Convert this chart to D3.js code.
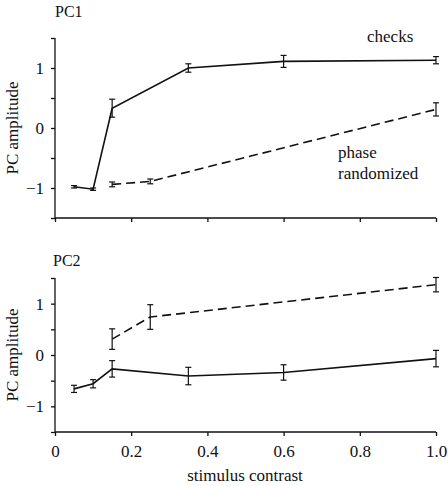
<!DOCTYPE html>
<html><head><meta charset="utf-8">
<script src="https://cdn.jsdelivr.net/npm/d3@7"></script>
<style>body{margin:0;background:#fff}svg{display:block}</style>
</head><body>
<script>
const xTicks = [0, 0.2, 0.4, 0.6, 0.8, 1.0];
const xTickLabels = ["0", "0.2", "0.4", "0.6", "0.8", "1.0"];
const yTicks = [-1.5, -1, -0.5, 0, 0.5, 1, 1.5];
const yTickLabels = {"-1": "\u22121", "0": "0", "1": "1"};

// PC1
const pc1ChecksX = [0.05, 0.10, 0.15, 0.35, 0.60, 1.00];
const pc1ChecksY = [-0.98, -1.02, 0.33, 1.00, 1.11, 1.13];
const pc1ChecksErr = [0.02, 0.02, 0.15, 0.07, 0.10, 0.06];
const pc1PhaseX = [0.15, 0.25, 1.00];
const pc1PhaseY = [-0.94, -0.89, 0.31];
const pc1PhaseErr = [0.04, 0.04, 0.11];

// PC2
const pc2ChecksX = [0.05, 0.10, 0.15, 0.35, 0.60, 1.00];
const pc2ChecksY = [-0.66, -0.56, -0.27, -0.41, -0.34, -0.07];
const pc2ChecksErr = [0.07, 0.08, 0.16, 0.17, 0.15, 0.16];
const pc2PhaseX = [0.15, 0.25, 1.00];
const pc2PhaseY = [0.31, 0.74, 1.37];
const pc2PhaseErr = [0.20, 0.24, 0.14];

const FONT = "'Liberation Serif', 'Times New Roman', Times, serif";
const W = 448, H = 486;
const svg = d3.select("body").append("svg").attr("width", W).attr("height", H)
  .attr("font-family", FONT);
const x = d3.scaleLinear().domain([0, 1]).range([55, 436]);

function txt(sel, size) {
  return sel.attr("font-family", FONT).attr("fill", "#111").style("font-size", size + "px");
}

const panels = [
  {title: "PC1", top: 38, bottom: 218, titleY: 17,
   series: [
     {xs: pc1ChecksX, ys: pc1ChecksY, es: pc1ChecksErr, dash: null},
     {xs: pc1PhaseX, ys: pc1PhaseY, es: pc1PhaseErr, dash: "9,5"}]},
  {title: "PC2", top: 278, bottom: 432, titleY: 266,
   series: [
     {xs: pc2ChecksX, ys: pc2ChecksY, es: pc2ChecksErr, dash: null},
     {xs: pc2PhaseX, ys: pc2PhaseY, es: pc2PhaseErr, dash: "9,5"}]}
];

panels.forEach((p, pi) => {
  const y = d3.scaleLinear().domain([-1.5, 1.5]).range([p.bottom, p.top]);
  const g = svg.append("g");

  // y axis
  const ya = d3.axisLeft(y).tickValues(yTicks).tickSize(4).tickPadding(7)
    .tickFormat(d => yTickLabels[String(d)] || "");
  const yg = g.append("g").attr("transform", `translate(${x(0)},0)`).call(ya);
  yg.attr("font-family", FONT);
  yg.select(".domain").attr("d", `M0,${p.top}V${p.bottom}`);
  yg.selectAll("path,line").attr("stroke", "#111").attr("stroke-width", 1.3);
  txt(yg.selectAll("text"), 17);

  // x axis
  const xa = d3.axisBottom(x).tickValues(xTicks).tickSize(4).tickPadding(9)
    .tickFormat((d, i) => pi === 1 ? xTickLabels[i] : "");
  const xg = g.append("g").attr("transform", `translate(0,${p.bottom})`).call(xa);
  xg.attr("font-family", FONT);
  xg.select(".domain").attr("d", `M${x(0)},0H${x(1)}`);
  xg.selectAll("path,line").attr("stroke", "#111").attr("stroke-width", 1.3);
  txt(xg.selectAll("text"), 17);

  // title
  txt(g.append("text").attr("x", pi === 0 ? 55 : 53).attr("y", p.titleY), 16).text(p.title);

  // y label
  txt(g.append("text").attr("transform", `translate(18,${(p.top + p.bottom) / 2}) rotate(-90)`)
    .attr("text-anchor", "middle"), 17).text("PC amplitude");

  const line = d3.line().x(d => x(d[0])).y(d => y(d[1]));
  p.series.forEach(s => {
    const pts = s.xs.map((v, i) => [v, s.ys[i], s.es[i]]);
    g.append("path").datum(pts).attr("d", line).attr("fill", "none")
      .attr("stroke", "#111").attr("stroke-width", 1.6)
      .attr("stroke-dasharray", s.dash);
    const eb = g.append("g").attr("stroke", "#111").attr("stroke-width", 1.2);
    pts.forEach(d => {
      const cx = x(d[0]), y1 = y(d[1] + d[2]), y2 = y(d[1] - d[2]);
      eb.append("line").attr("x1", cx).attr("x2", cx).attr("y1", y1).attr("y2", y2);
      eb.append("line").attr("x1", cx - 3).attr("x2", cx + 3).attr("y1", y1).attr("y2", y1);
      eb.append("line").attr("x1", cx - 3).attr("x2", cx + 3).attr("y1", y2).attr("y2", y2);
    });
  });

  if (pi === 0) {
    txt(g.append("text").attr("x", 367).attr("y", 42), 17).text("checks");
    txt(g.append("text").attr("x", 338).attr("y", 158), 17).text("phase");
    txt(g.append("text").attr("x", 338).attr("y", 179), 17).text("randomized");
  }
});

txt(svg.append("text").attr("x", 245).attr("y", 481).attr("text-anchor", "middle"), 17)
  .text("stimulus contrast");
</script>
</body></html>
